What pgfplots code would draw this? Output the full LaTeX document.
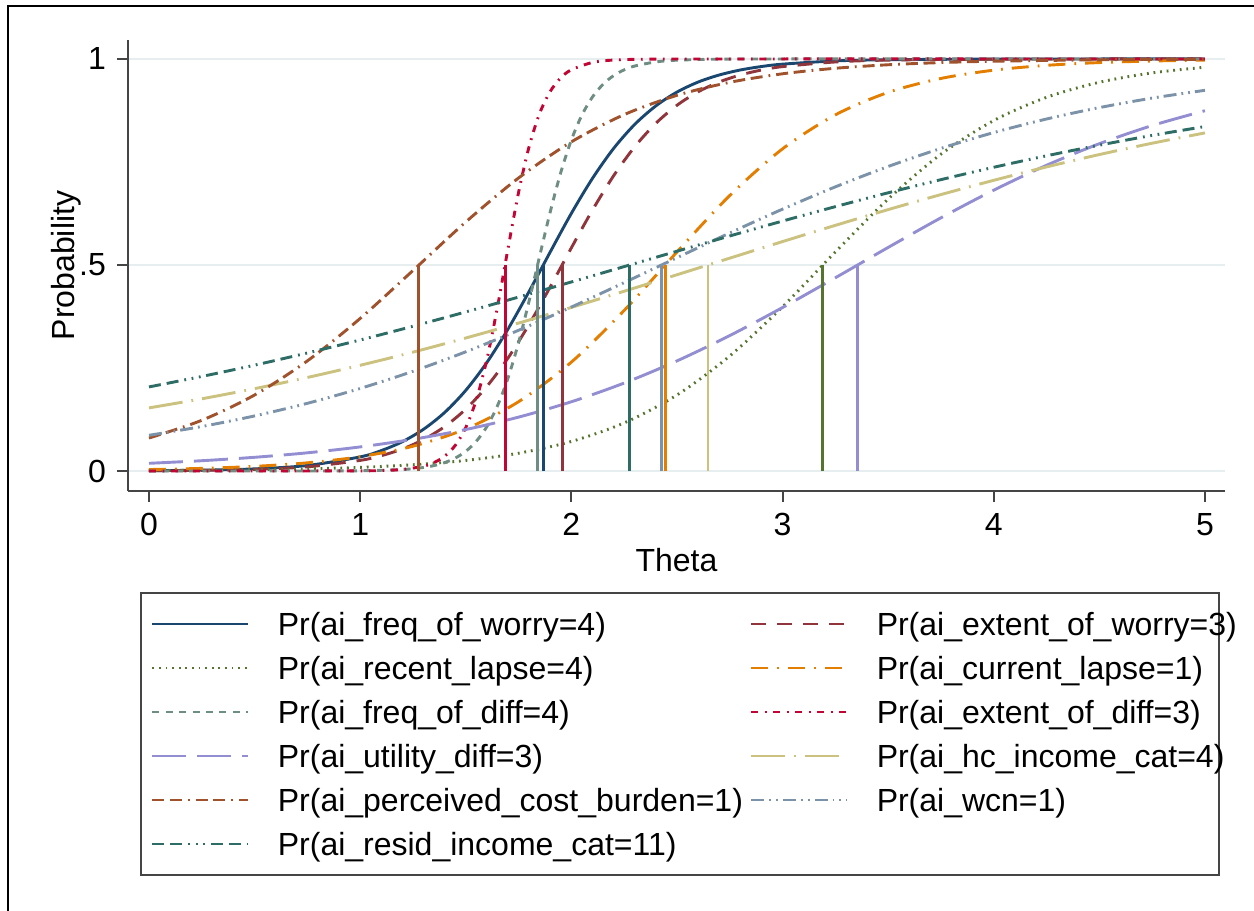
\documentclass[border=0pt]{standalone}
\usepackage{fontspec}
\setmainfont{Liberation Sans}
\usepackage{pgfplots}
\pgfplotsset{compat=1.18}

% s2color palette
\definecolor{stnavy}{HTML}{1A476F}
\definecolor{stmaroon}{HTML}{90353B}
\definecolor{stforest}{HTML}{55752F}
\definecolor{stdkorange}{HTML}{E37E00}
\definecolor{stteal}{HTML}{6E8E84}
\definecolor{stcranberry}{HTML}{C10534}
\definecolor{stlavender}{HTML}{938DD2}
\definecolor{stkhaki}{HTML}{CAC27E}
\definecolor{stsienna}{HTML}{A0522D}
\definecolor{stemidblue}{HTML}{7B92A8}
\definecolor{stemerald}{HTML}{2D6D66}
\definecolor{stgrid}{HTML}{E6EEF0}
\definecolor{staxis}{HTML}{454545}

\pgfplotsset{
  icc/.style={line width=1.45pt, smooth, tension=0.5, line join=round},
  bline/.style={line width=1.45pt, forget plot},
}
\tikzset{
  pdash/.style={dash pattern=on 7.5pt off 5.5pt},
  pdot/.style={dash pattern=on 0.9pt off 2.4pt},
  pdashdot/.style={dash pattern=on 8.5pt off 4.5pt on 0.9pt off 4.5pt},
  pshortdash/.style={dash pattern=on 3.5pt off 3.2pt},
  pshortdashdot/.style={dash pattern=on 3.5pt off 3.3pt on 0.9pt off 3.3pt},
  plongdash/.style={dash pattern=on 17pt off 5.5pt},
  plongdashdot/.style={dash pattern=on 17pt off 4.5pt on 0.9pt off 4.5pt},
  pddot/.style={dash pattern=on 6pt off 2.8pt on 6pt off 3pt on 0.9pt off 3pt},
  pdotdash/.style={dash pattern=on 6.5pt off 2.5pt on 0.9pt off 2.5pt on 0.9pt off 2.5pt},
  pddots/.style={dash pattern=on 6pt off 3pt on 6pt off 3pt on 0.9pt off 2.8pt on 0.9pt off 2.8pt on 0.9pt off 2.8pt},
}
\newcommand\lcA[1]{\makebox[236pt][l]{#1}}
\newcommand\lcB[1]{\makebox[166pt][l]{#1}}

\begin{document}
\fontsize{16}{19}\selectfont
\begin{tikzpicture}
\useasboundingbox (0,0) rectangle (627pt,455.5pt);
\draw[black, line width=1.2pt] (4pt,0) -- (4pt,452.5pt) -- (627pt,452.5pt);
\begin{axis}[
  at={(64pt,210pt)}, anchor=south west,
  scale only axis, width=548.5pt, height=225.5pt,
  xmin=-0.0994, xmax=5.095, ymin=-0.0485, ymax=1.046,
  axis x line*=bottom, axis y line*=left,
  axis line style={-, draw=staxis, line width=1pt},
  tick align=outside, major tick length=5.5pt,
  major tick style={draw=staxis, line width=1pt},
  xtick={0,1,2,3,4,5}, xticklabels={0,1,2,3,4,5},
  ytick={0,0.5,1}, yticklabels={0,.5,1},
  /pgf/number format/assume math mode=true,
  ymajorgrids, grid style={draw=stgrid, line width=1pt},
  xlabel={Theta}, ylabel={Probability},
  xlabel style={at={(axis description cs:0.5,-0.153)}, anchor=center},
  ylabel style={at={(axis description cs:-0.0565,0.5)}, anchor=center},
  legend columns=2, legend cell align=left,
  legend style={at={(0.0109,-0.2239)}, anchor=north west,
    draw=staxis, line width=1pt, inner xsep=5pt, inner ysep=4.5pt,
    nodes={inner sep=0pt, text height=17pt, text depth=5pt},
    row sep=0pt,
    /tikz/every odd column/.append style={column sep=14pt}},
  legend image code/.code={\draw[#1] (0pt,0pt) -- (48pt,0pt);},
]
% item characteristic curves
\addplot[icc, draw=stnavy] coordinates {
(0,0.0008) (0.25,0.0020) (0.5,0.0052) (0.75,0.0134) (1,0.0343) (1.1,0.0496)
(1.2,0.0712) (1.3,0.1013) (1.4,0.1421) (1.5,0.1958) (1.6,0.2635) (1.7,0.3446)
(1.8,0.4359) (1.9,0.5317) (2,0.6253) (2.1,0.7103) (2.2,0.7828) (2.3,0.8412)
(2.4,0.8861) (2.5,0.9196) (2.6,0.9439) (2.7,0.9611) (2.8,0.9732) (2.9,0.9816)
(3,0.9874) (3.25,0.9952) (3.5,0.9981) (4,0.9997) (4.5,1.0000) (5,1.0000)};
\addlegendentry{\lcA{Pr(ai\_freq\_of\_worry=4)}}

\addplot[icc, pdash, draw=stmaroon] coordinates {
(0,0.0006) (0.25,0.0015) (0.5,0.0039) (0.75,0.0101) (1,0.0258) (1.1,0.0372)
(1.2,0.0535) (1.3,0.0764) (1.4,0.1078) (1.5,0.1502) (1.6,0.2054) (1.7,0.2743)
(1.8,0.3560) (1.9,0.4470) (2,0.5417) (2.1,0.6334) (2.2,0.7165) (2.3,0.7870)
(2.4,0.8438) (2.5,0.8876) (2.6,0.9203) (2.7,0.9441) (2.8,0.9611) (2.9,0.9731)
(3,0.9814) (3.25,0.9927) (3.5,0.9972) (4,0.9996) (4.5,1.0000) (5,1.0000)};
\addlegendentry{\lcB{Pr(ai\_extent\_of\_worry=3)}}

\addplot[icc, pdot, draw=stforest] coordinates {
(0,0.0011) (0.25,0.0018) (0.5,0.0031) (0.75,0.0052) (1,0.0089) (1.25,0.0152)
(1.5,0.0257) (1.75,0.0432) (2,0.0717) (2.25,0.1168) (2.5,0.1845) (2.75,0.2793)
(3,0.3987) (3.25,0.5317) (3.5,0.6601) (3.75,0.7689) (4,0.8506) (4.25,0.9069)
(4.5,0.9434) (4.75,0.9662) (5,0.9799)};
\addlegendentry{\lcA{Pr(ai\_recent\_lapse=4)}}

\addplot[icc, pdashdot, draw=stdkorange] coordinates {
(0,0.0036) (0.25,0.0064) (0.5,0.0113) (0.75,0.0199) (1,0.0348) (1.25,0.0602)
(1.5,0.1022) (1.75,0.1682) (2,0.2643) (2.25,0.3897) (2.5,0.5316) (2.75,0.6686)
(3,0.7819) (3.25,0.8643) (3.5,0.9189) (3.75,0.9527) (4,0.9728) (4.25,0.9845)
(4.5,0.9912) (4.75,0.9950) (5,0.9972)};
\addlegendentry{\lcB{Pr(ai\_current\_lapse=1)}}

\addplot[icc, pshortdash, draw=stteal] coordinates {
(0,0.0000) (0.5,0.0000) (0.75,0.0001) (1,0.0006) (1.2,0.0036) (1.3,0.0086)
(1.35,0.0132) (1.4,0.0204) (1.45,0.0313) (1.5,0.0478) (1.55,0.0723) (1.6,0.1079)
(1.65,0.1582) (1.7,0.2258) (1.75,0.3117) (1.8,0.4129) (1.85,0.5220) (1.9,0.6290)
(1.95,0.7248) (2,0.8035) (2.05,0.8639) (2.1,0.9078) (2.15,0.9386) (2.2,0.9596)
(2.25,0.9736) (2.3,0.9828) (2.4,0.9928) (2.5,0.9970) (2.7,0.9995) (3,1.0000)
(4,1.0000) (5,1.0000)};
\addlegendentry{\lcA{Pr(ai\_freq\_of\_diff=4)}}

\addplot[icc, pshortdashdot, draw=stcranberry] coordinates {
(0,0.0000) (0.5,0.0000) (1,0.0004) (1.1,0.0012) (1.2,0.0037) (1.3,0.0117)
(1.35,0.0206) (1.4,0.0359) (1.45,0.0621) (1.5,0.1054) (1.55,0.1731) (1.6,0.2711)
(1.65,0.3979) (1.7,0.5402) (1.75,0.6762) (1.8,0.7876) (1.85,0.8683) (1.9,0.9213)
(1.95,0.9542) (2,0.9737) (2.1,0.9915) (2.2,0.9973) (2.4,0.9997) (3,1.0000)
(4,1.0000) (5,1.0000)};
\addlegendentry{\lcB{Pr(ai\_extent\_of\_diff=3)}}

\addplot[icc, plongdash, draw=stlavender] coordinates {
(0,0.0187) (0.25,0.0250) (0.5,0.0333) (0.75,0.0442) (1,0.0585) (1.25,0.0770)
(1.5,0.1007) (1.75,0.1308) (2,0.1681) (2.25,0.2135) (2.5,0.2672) (2.75,0.3287)
(3,0.3968) (3.25,0.4690) (3.5,0.5426) (3.75,0.6145) (4,0.6816) (4.25,0.7420)
(4.5,0.7943) (4.75,0.8384) (5,0.8744)};
\addlegendentry{\lcA{Pr(ai\_utility\_diff=3)}}

\addplot[icc, plongdashdot, draw=stkhaki] coordinates {
(0,0.1532) (0.25,0.1753) (0.5,0.1999) (0.75,0.2270) (1,0.2566) (1.25,0.2885)
(1.5,0.3228) (1.75,0.3590) (2,0.3970) (2.25,0.4363) (2.5,0.4763) (2.75,0.5166)
(3,0.5568) (3.25,0.5962) (3.5,0.6344) (3.75,0.6709) (4,0.7055) (4.25,0.7380)
(4.5,0.7680) (4.75,0.7955) (5,0.8205)};
\addlegendentry{\lcB{Pr(ai\_hc\_income\_cat=4)}}

\addplot[icc, pddot, draw=stsienna] coordinates {
(0,0.0801) (0.25,0.1231) (0.5,0.1845) (0.75,0.2673) (1,0.3703) (1.25,0.4866)
(1.5,0.6044) (1.75,0.7112) (2,0.7988) (2.25,0.8649) (2.5,0.9117) (2.75,0.9433)
(3,0.9640) (3.25,0.9774) (3.5,0.9859) (3.75,0.9912) (4,0.9945) (4.5,0.9979)
(5,0.9992)};
\addlegendentry{\lcA{Pr(ai\_perceived\_cost\_burden=1)}}

\addplot[icc, pdotdash, draw=stemidblue] coordinates {
(0,0.0867) (0.25,0.1080) (0.5,0.1337) (0.75,0.1643) (1,0.2004) (1.25,0.2420)
(1.5,0.2893) (1.75,0.3415) (2,0.3979) (2.25,0.4572) (2.5,0.5177) (2.75,0.5777)
(3,0.6355) (3.25,0.6896) (3.5,0.7390) (3.75,0.7830) (4,0.8214) (4.25,0.8543)
(4.5,0.8819) (4.75,0.9050) (5,0.9239)};
\addlegendentry{\lcB{Pr(ai\_wcn=1)}}

\addplot[icc, pddots, draw=stemerald] coordinates {
(0,0.2041) (0.25,0.2295) (0.5,0.2569) (0.75,0.2865) (1,0.3180) (1.25,0.3513)
(1.5,0.3861) (1.75,0.4221) (2,0.4588) (2.25,0.4961) (2.5,0.5334) (2.75,0.5704)
(3,0.6066) (3.25,0.6416) (3.5,0.6752) (3.75,0.7071) (4,0.7371) (4.25,0.7650)
(4.5,0.7908) (4.75,0.8145) (5,0.8360)};
\addlegendentry{\lcA{Pr(ai\_resid\_income\_cat=11)}}

% item difficulties: theta where each curve reaches .5
\addplot[bline, draw=stnavy] coordinates {(1.867,0) (1.867,0.5)};
\addplot[bline, draw=stmaroon] coordinates {(1.956,0) (1.956,0.5)};
\addplot[bline, draw=stforest] coordinates {(3.191,0) (3.191,0.5)};
\addplot[bline, draw=stdkorange] coordinates {(2.445,0) (2.445,0.5)};
\addplot[bline, draw=stteal] coordinates {(1.840,0) (1.840,0.5)};
\addplot[bline, draw=stcranberry] coordinates {(1.686,0) (1.686,0.5)};
\addplot[bline, draw=stlavender] coordinates {(3.355,0) (3.355,0.5)};
\addplot[bline, draw=stkhaki] coordinates {(2.647,0) (2.647,0.5)};
\addplot[bline, draw=stsienna] coordinates {(1.278,0) (1.278,0.5)};
\addplot[bline, draw=stemidblue] coordinates {(2.427,0) (2.427,0.5)};
\addplot[bline, draw=stemerald] coordinates {(2.276,0) (2.276,0.5)};
\end{axis}
\end{tikzpicture}
\end{document}
